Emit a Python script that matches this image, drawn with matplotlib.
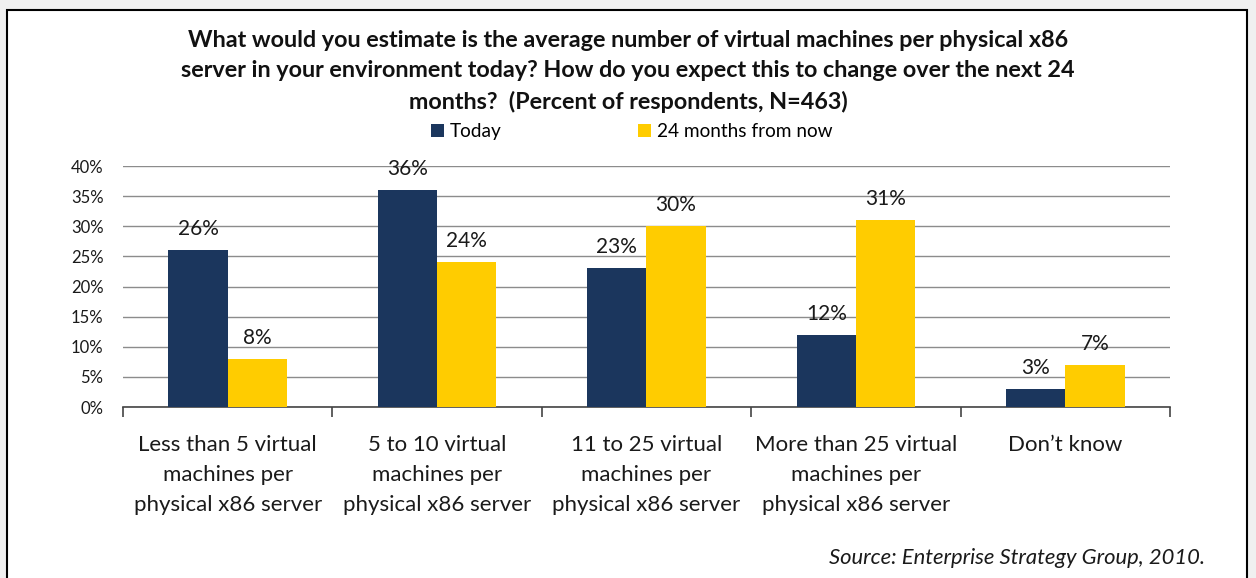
import matplotlib.pyplot as plt
import numpy as np
from matplotlib.patches import Rectangle

plt.rcParams['font.family'] = ['Lato', 'DejaVu Sans']

# data
categories = ['Less than 5 virtual\nmachines per\nphysical x86 server',
              '5 to 10 virtual\nmachines per\nphysical x86 server',
              '11 to 25 virtual\nmachines per\nphysical x86 server',
              'More than 25 virtual\nmachines per\nphysical x86 server',
              'Don\u2019t know']
today = [26, 36, 23, 12, 3]
in_24_months = [8, 24, 30, 31, 7]
series_names = ['Today', '24 months from now']
yticks = [0, 5, 10, 15, 20, 25, 30, 35, 40]

navy = '#1b365d'
yellow = '#ffcc00'

fig = plt.figure(figsize=(12.56, 5.78), dpi=100)
fig.patch.set_facecolor('#f0f0f0')

# white frame
fig.patches.append(Rectangle((0.0056, -0.05), 0.9872, 1.0327, transform=fig.transFigure,
                             facecolor='white', edgecolor='black', linewidth=1.5, zorder=-5))

ax = fig.add_axes([0.0979, 0.2958, 0.8336, 0.4170])
ax.set_facecolor('none')
ax.set_zorder(2)

x = np.arange(len(categories))
w = 0.283
b1 = ax.bar(x - w / 2, today, w, color=navy, label=series_names[0], zorder=3)
b2 = ax.bar(x + w / 2, in_24_months, w, color=yellow, label=series_names[1], zorder=3)

for bars, vals in ((b1, today), (b2, in_24_months)):
    for r, v in zip(bars, vals):
        ax.annotate(f'{v}%', (r.get_x() + r.get_width() / 2, v), xytext=(0, 8),
                    textcoords='offset points', ha='center', va='bottom',
                    fontsize=15, color='#1a1a1a')

ax.set_xlim(-0.5, len(categories) - 0.5)
ax.set_ylim(0, 40)
ax.set_yticks(yticks)
ax.set_yticklabels([f'{t}%' for t in yticks], fontsize=12, color='#1a1a1a')
ax.tick_params(axis='y', length=0, pad=14)
ax.yaxis.grid(True, color='#8c8c8c', linewidth=1, zorder=0)

# category boundaries as ticks, labels in between
ax.set_xticks(np.arange(len(categories) + 1) - 0.5)
ax.set_xticklabels([])
ax.tick_params(axis='x', length=7, width=1.2, color='#444444', direction='out')
for xi, lab in zip(x, categories):
    ax.text(xi, -0.115, lab, transform=ax.get_xaxis_transform(), ha='center', va='top',
            fontsize=16, color='#1a1a1a', linespacing=1.62)

for s in ['top', 'right', 'left']:
    ax.spines[s].set_visible(False)
ax.spines['bottom'].set_color('#444444')
ax.spines['bottom'].set_linewidth(1.2)

fig.text(0.5, 0.876, 'What would you estimate is the average number of virtual machines per physical x86\n'
         'server in your environment today? How do you expect this to change over the next 24\n'
         'months?  (Percent of respondents, N=463)',
         ha='center', va='center', fontsize=16.8, fontweight='bold', linespacing=1.53, color='#111111')

fig.legend(handles=[b1, b2], labels=series_names, loc='center', bbox_to_anchor=(0.5028, 0.772),
           ncol=2, frameon=False, fontsize=13.7, handlelength=0.7, handleheight=0.7,
           handletextpad=0.3, columnspacing=7.15)

fig.text(0.959, 0.035, 'Source: Enterprise Strategy Group, 2010.', ha='right', va='center',
         fontsize=15.8, style='italic', color='#1a1a1a')

fig.savefig('out.png', dpi=100, facecolor=fig.get_facecolor())
